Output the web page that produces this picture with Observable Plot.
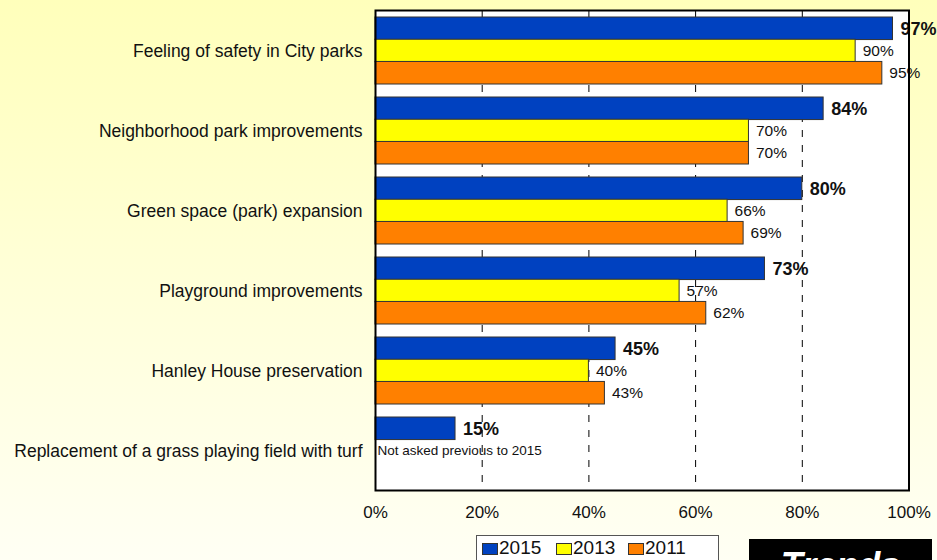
<!DOCTYPE html>
<html>
<head>
<meta charset="utf-8">
<script src="https://cdn.jsdelivr.net/npm/d3@7"></script>
<script src="https://cdn.jsdelivr.net/npm/@observablehq/plot@0.6"></script>
<style>
  html, body { margin: 0; padding: 0; }
  body { width: 937px; height: 560px; overflow: hidden;
    background: linear-gradient(to bottom, #ffffbb 0%, #ffffd8 50%, #fffff4 100%);
    font-family: "Liberation Sans", Arial, Helvetica, sans-serif; }
  #wrap { position: relative; width: 937px; height: 560px; }
  #chart svg { display: block; }
  #legend { position: absolute; left: 476px; top: 535px; width: 243px; height: 40px;
    background: #fff; border: 1px solid #555; box-sizing: border-box; }
  .li { position: absolute; top: 1px; font-size: 19px; line-height: 22px; color: #111; }
  .sw { position: absolute; top: 7px; width: 16px; height: 12px; border: 1px solid #333; box-sizing: border-box; }
  #trends { position: absolute; left: 749px; top: 539px; width: 183px; height: 60px; background: #000;
    color: #fff; font-weight: bold; font-style: italic; font-size: 36px; text-align: center; line-height: 53px; }
</style>
</head>
<body>
<div id="wrap">
  <div id="chart"></div>
  <div id="legend"></div>
  <div id="trends">Trends</div>
</div>
<script>
const categories = [
  "Feeling of safety in City parks",
  "Neighborhood park improvements",
  "Green space (park) expansion",
  "Playground improvements",
  "Hanley House preservation",
  "Replacement of a grass playing field with turf"
];
const years = ["2015", "2013", "2011"];
const v2015 = [97, 84, 80, 73, 45, 15];
const v2013 = [90, 70, 66, 57, 40, null];
const v2011 = [95, 70, 69, 62, 43, null];
const xTicks = [0, 20, 40, 60, 80, 100];
const gridTicks = [20, 40, 60, 80];
const note = "Not asked previous to 2015";
const colors = {"2015": "#0041c0", "2013": "#ffff00", "2011": "#ff8000"};

const series = {"2015": v2015, "2013": v2013, "2011": v2011};
const rows = [];
for (const yr of years) {
  categories.forEach((c, i) => {
    const v = series[yr][i];
    if (v != null) rows.push({category: c, year: yr, value: v});
  });
}

const bw = 480 / (6 - 1/6 + 2/12) * (1 - 1/6); // bandwidth of a category
const third = bw / 3;
const insets = {"2015": [0, 2 * third], "2013": [third, third], "2011": [2 * third, 0]};
const dys = {"2015": -third, "2013": 0, "2011": third};

const marks = [
  Plot.frame({fill: "#fff", stroke: null}),
  Plot.ruleX(gridTicks, {stroke: "#000", strokeWidth: 1, strokeDasharray: "7,8"})
];
for (const yr of years) {
  const d = rows.filter(r => r.year === yr);
  marks.push(Plot.barX(d, {
    x: "value", y: "category", fill: colors[yr], stroke: "#333", strokeWidth: 1,
    insetTop: insets[yr][0], insetBottom: insets[yr][1]
  }));
}
for (const yr of years) {
  const d = rows.filter(r => r.year === yr);
  marks.push(Plot.text(d, {
    x: "value", y: "category", text: r => r.value + "%", dx: yr === "2015" ? 7.5 : 7, dy: dys[yr],
    textAnchor: "start", fill: "#111",
    fontSize: yr === "2015" ? 18 : 15.5, fontWeight: yr === "2015" ? "bold" : "normal"
  }));
}
marks.push(Plot.text([note], {x: () => 0, y: () => categories[5], text: d => d, dx: 2,
  textAnchor: "start", fontSize: 13.5, fill: "#111"}));
marks.push(Plot.axisX({ticks: xTicks, tickFormat: d => d + "%", tickSize: 0, tickPadding: 15, fontSize: 17}));
marks.push(Plot.axisY({tickSize: 0, tickPadding: 13, fontSize: 17.5}));
marks.push(Plot.frame({stroke: "#000", strokeWidth: 2}));

const chart = Plot.plot({
  width: 937, height: 560,
  marginLeft: 375, marginRight: 28.5, marginTop: 10, marginBottom: 70,
  style: {background: "transparent", fontFamily: "'Liberation Sans', Arial, sans-serif", color: "#111", overflow: "visible"},
  x: {domain: [0, 100], label: null},
  y: {domain: categories, paddingInner: 1/6, paddingOuter: 1/12, label: null},
  marks
});
document.getElementById("chart").appendChild(chart);

// legend
const legend = document.getElementById("legend");
const legendPos = {"2015": 5, "2013": 79, "2011": 151};
for (const yr of years) {
  const sw = document.createElement("div");
  sw.className = "sw";
  sw.style.left = legendPos[yr] + "px";
  sw.style.background = colors[yr];
  legend.appendChild(sw);
  const t = document.createElement("div");
  t.className = "li";
  t.style.left = (legendPos[yr] + 17) + "px";
  t.textContent = yr;
  legend.appendChild(t);
}
</script>
</body>
</html>
